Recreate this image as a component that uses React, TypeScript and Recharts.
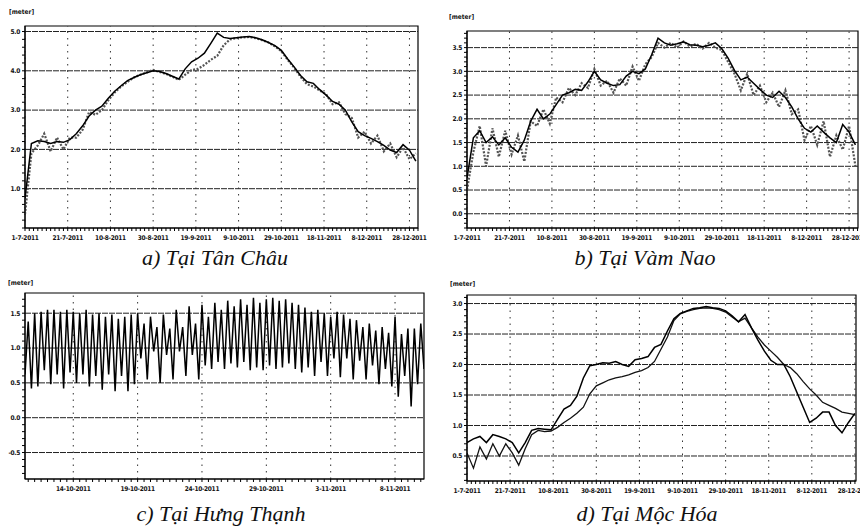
import { LineChart, Line, XAxis, YAxis, ReferenceLine, ReferenceArea } from 'recharts'

// Water levels (m), readings every 3 days starting 1-7-2011
const dayStep = 3

const tanChauCalc = [
  0.75, 2.15, 2.22, 2.2, 2.15, 2.2, 2.18, 2.25, 2.4, 2.6,
  2.85, 3.0, 3.1, 3.3, 3.48, 3.62, 3.75, 3.83, 3.9, 3.95,
  4.0, 3.98, 3.93, 3.86, 3.79, 4.05, 4.23, 4.32, 4.45, 4.7,
  4.96, 4.85, 4.82, 4.84, 4.86, 4.87, 4.84, 4.79, 4.72, 4.64,
  4.52, 4.3, 4.1, 3.88, 3.72, 3.68, 3.52, 3.38, 3.22, 3.15,
  3.0, 2.7, 2.45, 2.35, 2.28, 2.2, 2.1, 1.98, 1.92, 2.12,
  1.98, 1.7,
]
const tanChauObs = [
  0.35, 1.9, 2.1, 2.4, 1.95, 2.3, 2.0, 2.3, 2.3, 2.5,
  2.95, 2.88, 3.0, 3.25, 3.45, 3.6, 3.72, 3.83, 3.9, 3.96,
  4.02, 3.97, 3.92, 3.85, 3.77, 3.9, 4.02, 4.05, 4.15, 4.28,
  4.38, 4.65, 4.8, 4.83, 4.85, 4.86, 4.83, 4.78, 4.72, 4.62,
  4.5, 4.28, 4.08, 3.85, 3.66, 3.6, 3.5, 3.4, 3.15, 3.2,
  2.9, 2.8, 2.3, 2.45, 2.15, 2.35, 1.95, 2.15, 1.8, 2.05,
  1.75, 1.9,
]

const vamNaoCalc = [
  0.75, 1.6, 1.75, 1.5, 1.62, 1.45, 1.6, 1.4, 1.3, 1.55,
  1.95, 2.2, 2.0, 2.1, 2.3, 2.5, 2.55, 2.62, 2.6, 2.78,
  3.0, 2.82, 2.75, 2.7, 2.72, 2.9, 3.0, 2.95, 3.05, 3.35,
  3.7, 3.6, 3.55, 3.58, 3.62, 3.56, 3.55, 3.52, 3.55, 3.6,
  3.48, 3.28, 3.02, 2.82, 2.88, 2.75, 2.62, 2.5, 2.45, 2.58,
  2.45, 2.25, 2.0, 1.8, 1.72, 1.85, 1.72, 1.6, 1.5, 1.88,
  1.72, 1.45,
]
const vamNaoObs = [
  0.5, 1.3, 1.85, 1.0, 1.8, 1.2, 1.75, 1.25, 1.65, 1.1,
  1.95, 1.85, 2.2, 1.9, 2.45, 2.35, 2.65, 2.5, 2.75, 2.65,
  3.05, 2.7, 2.8, 2.55, 2.85, 2.7, 3.1, 2.8, 3.15, 3.3,
  3.6, 3.5, 3.6, 3.5, 3.63, 3.52, 3.58, 3.48, 3.6, 3.5,
  3.45, 3.2, 2.95, 2.6, 2.95, 2.5, 2.7, 2.35, 2.55, 2.25,
  2.6, 2.1, 2.2, 1.55, 1.85, 1.45, 1.95, 1.2, 1.65, 1.35,
  1.85, 1.0,
]

const mocHoaCalc = [
  0.72, 0.78, 0.82, 0.72, 0.85, 0.82, 0.78, 0.72, 0.55, 0.72,
  0.92, 0.95, 0.94, 0.93, 1.1, 1.27, 1.33, 1.48, 1.78, 1.98,
  2.0, 2.03, 2.02, 2.05, 2.0, 1.97, 2.08, 2.1, 2.13, 2.28,
  2.33, 2.55, 2.75, 2.84, 2.88, 2.92, 2.93, 2.95, 2.93, 2.92,
  2.88, 2.8, 2.7, 2.82, 2.6, 2.4, 2.22, 2.07, 2.0, 2.0,
  1.8, 1.55, 1.3, 1.05, 1.12, 1.22, 1.22, 1.0, 0.88, 1.05,
  1.2,
]
const mocHoaObs = [
  0.55, 0.3, 0.65, 0.45, 0.7, 0.5, 0.7, 0.55, 0.35, 0.62,
  0.85, 0.92, 0.9, 0.91, 0.97, 1.05, 1.12, 1.2, 1.3, 1.52,
  1.65, 1.7, 1.75, 1.78, 1.8, 1.83, 1.87, 1.9, 1.95, 2.05,
  2.25, 2.45, 2.72, 2.83, 2.87, 2.9, 2.92, 2.93, 2.92, 2.9,
  2.86, 2.78, 2.7, 2.76, 2.6, 2.45, 2.32, 2.22, 2.12, 2.0,
  1.95, 1.85, 1.72, 1.6, 1.5, 1.38, 1.33, 1.28, 1.22, 1.2,
  1.18,
]

// Hung Thanh tide, readings every 6h starting 10-10-2011 06h (day of October)
const hungThanhStart = 10.25
const hungThanhStep = 0.25
const hungThanhLevel = [
  0.62, 1.38, 0.42, 1.5, 0.45, 1.52, 0.68, 1.55, 0.48, 1.55,
  0.62, 1.52, 0.42, 1.55, 0.65, 1.52, 0.5, 1.5, 0.62, 1.55,
  0.45, 1.48, 0.6, 1.5, 0.4, 1.45, 0.62, 1.48, 0.38, 1.42,
  0.6, 1.45, 0.38, 1.48,
  0.48, 1.5, 0.85, 1.35, 0.55, 1.45, 0.95, 1.3, 0.5, 1.48,
  0.9, 1.28, 0.55, 1.55, 0.95, 1.3, 0.6, 1.6, 0.9, 1.35, 0.55,
  1.62, 0.75, 1.45, 0.7, 1.65, 0.8, 1.55, 0.7, 1.68, 0.78,
  1.6, 0.72, 1.7, 0.8, 1.62, 0.68, 1.72, 0.72, 1.65, 0.68,
  1.7, 0.75, 1.72, 0.7, 1.68, 0.72, 1.7, 0.78, 1.65, 0.7,
  1.62, 0.65,
  1.58, 0.72, 1.52, 0.6, 1.55, 0.8, 1.5, 0.6, 1.45, 0.85,
  1.52, 0.58, 1.48, 0.85, 1.42, 0.55, 1.4, 0.82, 1.3, 0.55,
  1.35, 0.75, 1.25, 0.48, 1.3, 0.7, 1.22, 0.45, 1.45, 0.3,
  1.2, 0.6, 1.28, 0.16, 1.28, 0.48, 1.35, 0.7,
]

const seasonLabels = [0, 20, 40, 60, 80, 100, 120, 140, 160, 180]
const hungThanhLabels = [14, 19, 24, 29, 34, 39]

const seasonRows = (calc: number[], obs: number[]) =>
  calc.map((v, i) => ({ t: i * dayStep, calc: v, obs: obs[i] }))
const tideRows = hungThanhLevel.map((v, i) => ({ t: hungThanhStart + i * hungThanhStep, calc: v }))

const steps = (from: number, to: number, step: number) => {
  const out: number[] = []
  for (let i = 0; from + i * step <= to + 1e-9; i++) out.push(Math.round((from + i * step) * 100) / 100)
  return out
}
const isIn = (list: number[], v: number) => list.some((m) => Math.abs(m - v) < 1e-6)

const fmtSeason = (d: number) => {
  if (!isIn(seasonLabels, d)) return ''
  const dt = new Date(2011, 6, 1 + d)
  return `${dt.getDate()}-${dt.getMonth() + 1}-2011`
}
const fmtTide = (d: number) => {
  if (!isIn(hungThanhLabels, d)) return ''
  return d > 31 ? `${d - 31}-11-2011` : `${d}-10-2011`
}

const tickFont = {
  fontSize: 6.5,
  fontWeight: 700,
  fill: '#111',
  letterSpacing: '-0.3px',
  fontFamily: '"DejaVu Sans Condensed", "Liberation Sans Narrow", sans-serif',
}

type PanelProps = {
  left: number
  top: number
  width: number
  height: number
  marginTop: number
  marginRight: number
  yWidth: number
  xHeight: number
  data: any[]
  xDomain: [number, number]
  yDomain: [number, number]
  xTicks: number[]
  xMajor: number[]
  yTicks: number[]
  yMajor: number[]
  xFormat: (v: number) => string
  obsDotted?: boolean
  hasObs?: boolean
}

function Panel(p: PanelProps) {
  return (
    <div style={{ position: 'absolute', left: p.left, top: p.top }}>
      <LineChart
        width={p.width}
        height={p.height}
        data={p.data}
        margin={{ top: p.marginTop, right: p.marginRight, left: 0, bottom: 0 }}
      >
        <XAxis
          dataKey="t"
          type="number"
          domain={p.xDomain}
          ticks={p.xTicks}
          interval={0}
          tickFormatter={p.xFormat}
          height={p.xHeight}
          tickSize={3}
          tickMargin={4}
          tick={tickFont}
          axisLine={{ stroke: '#000' }}
          tickLine={{ stroke: '#000' }}
          allowDataOverflow
        />
        <YAxis
          type="number"
          domain={p.yDomain}
          ticks={p.yTicks}
          interval={0}
          tickFormatter={(v: number) => (isIn(p.yMajor, v) ? v.toFixed(1) : '')}
          width={p.yWidth}
          tickSize={3}
          tickMargin={2}
          tick={tickFont}
          axisLine={{ stroke: '#000' }}
          tickLine={{ stroke: '#000' }}
          allowDataOverflow
        />
        {p.yMajor.map((v) => (
          <ReferenceLine key={'h' + v} y={v} stroke="#222" strokeDasharray="6 1" />
        ))}
        {p.xMajor.map((v) => (
          <ReferenceLine key={'v' + v} x={v} stroke="#333" strokeDasharray="1.5 5" />
        ))}
        <ReferenceArea
          x1={p.xDomain[0]}
          x2={p.xDomain[1]}
          y1={p.yDomain[0]}
          y2={p.yDomain[1]}
          fill="none"
          stroke="#000"
          strokeWidth={1.2}
        />
        {p.hasObs && (
          <Line
            type="linear"
            dataKey="obs"
            stroke={p.obsDotted ? '#555' : '#111'}
            strokeWidth={p.obsDotted ? 2.2 : 1.3}
            strokeDasharray={p.obsDotted ? '2 1.5' : undefined}
            dot={false}
            isAnimationActive={false}
          />
        )}
        <Line type="linear" dataKey="calc" stroke="#000" strokeWidth={1.5} dot={false} isAnimationActive={false} />
      </LineChart>
    </div>
  )
}

const captionStyle = {
  position: 'absolute' as const,
  width: 300,
  textAlign: 'center' as const,
  fontFamily: '"Liberation Serif", serif',
  fontStyle: 'italic',
  fontSize: 22,
  lineHeight: '22px',
  color: '#111',
}
const unitStyle = {
  position: 'absolute' as const,
  fontFamily: '"DejaVu Sans Condensed", sans-serif',
  fontWeight: 700,
  fontSize: 6.5,
  color: '#111',
}

export default function App() {
  const seasonMinor = steps(0, 184, 2)
  return (
    <div style={{ position: 'absolute', left: 0, top: 0, width: 860, height: 529, background: '#fff', overflow: 'hidden' }}>
      <Panel
        left={0} top={0} width={430} height={250}
        marginTop={26} marginRight={12} yWidth={25} xHeight={22}
        data={seasonRows(tanChauCalc, tanChauObs)}
        xDomain={[0, 184]} yDomain={[0, 5.14]}
        xTicks={seasonMinor} xMajor={seasonLabels}
        yTicks={steps(0, 5.1, 0.2)} yMajor={[1, 2, 3, 4, 5]}
        xFormat={fmtSeason} hasObs obsDotted
      />
      <Panel
        left={442} top={0} width={418} height={250}
        marginTop={31} marginRight={2} yWidth={25} xHeight={22}
        data={seasonRows(vamNaoCalc, vamNaoObs)}
        xDomain={[0, 184.2]} yDomain={[-0.3, 3.85]}
        xTicks={seasonMinor} xMajor={seasonLabels}
        yTicks={steps(-0.3, 3.8, 0.1)} yMajor={[0, 0.5, 1, 1.5, 2, 2.5, 3, 3.5]}
        xFormat={fmtSeason} hasObs obsDotted
      />
      <Panel
        left={0} top={270} width={430} height={230}
        marginTop={23} marginRight={6} yWidth={25} xHeight={21}
        data={tideRows}
        xDomain={[10.25, 41.25]} yDomain={[-0.88, 1.79]}
        xTicks={steps(10.5, 41, 0.5)} xMajor={hungThanhLabels}
        yTicks={steps(-0.8, 1.7, 0.1)} yMajor={[-0.5, 0, 0.5, 1, 1.5]}
        xFormat={fmtTide}
      />
      <Panel
        left={442} top={270} width={418} height={232}
        marginTop={25} marginRight={4} yWidth={25} xHeight={21}
        data={seasonRows(mocHoaCalc, mocHoaObs)}
        xDomain={[0, 180.5]} yDomain={[0.09, 3.14]}
        xTicks={steps(0, 180, 2)} xMajor={seasonLabels}
        yTicks={steps(0.1, 3.1, 0.1)} yMajor={[0.5, 1, 1.5, 2, 2.5, 3]}
        xFormat={fmtSeason} hasObs
      />

      <div style={{ ...unitStyle, left: 9, top: 8 }}>[meter]</div>
      <div style={{ ...unitStyle, left: 449, top: 13 }}>[meter]</div>
      <div style={{ ...unitStyle, left: 8, top: 279 }}>[meter]</div>
      <div style={{ ...unitStyle, left: 450, top: 280 }}>[meter]</div>

      <div style={{ ...captionStyle, left: 65, top: 247 }}>a) Tại Tân Châu</div>
      <div style={{ ...captionStyle, left: 495, top: 247 }}>b) Tại Vàm Nao</div>
      <div style={{ ...captionStyle, left: 71, top: 503 }}>c) Tại Hưng Thạnh</div>
      <div style={{ ...captionStyle, left: 497, top: 503 }}>d) Tại Mộc Hóa</div>
    </div>
  )
}
